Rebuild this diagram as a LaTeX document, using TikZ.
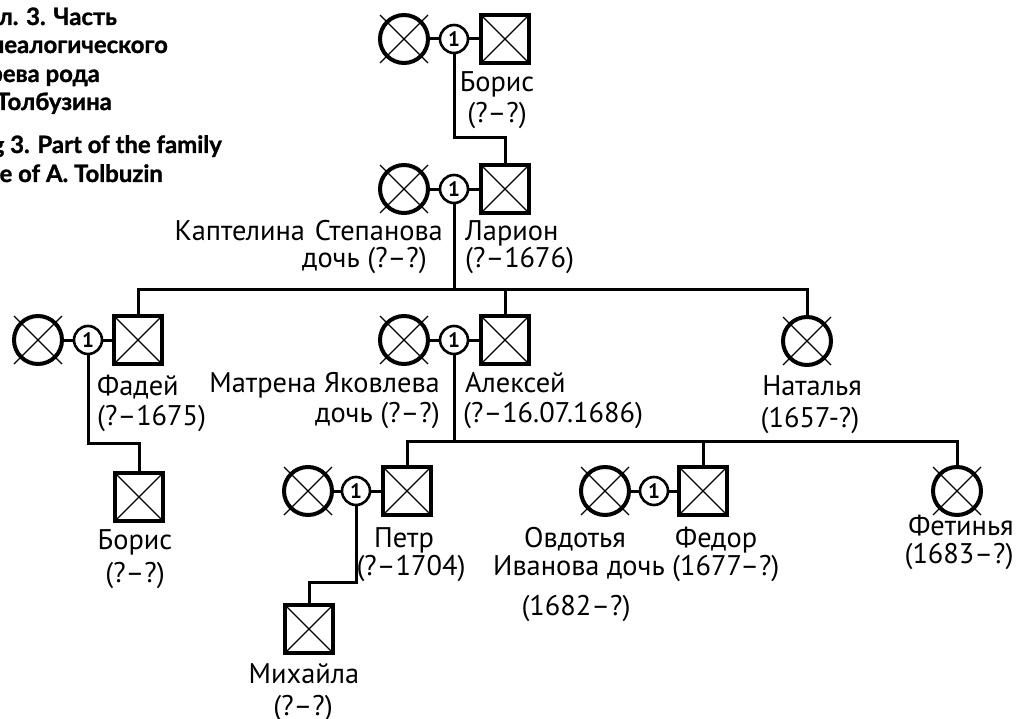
\documentclass[tikz,border=0pt]{standalone}
\usepackage{fontspec}
\setmainfont{PT Sans}
\newfontfamily\capfont{Lato}[BoldFeatures={FakeBold=1.2}]
\begin{document}
\begin{tikzpicture}[x=1bp,y=-1bp,
  con/.style={line width=3bp},
  fem/.style={circle,draw,line width=4bp,minimum size=48bp,inner sep=0pt},
  mal/.style={rectangle,draw,line width=4bp,minimum size=48bp,inner sep=0pt,
     path picture={\draw[line width=1.2bp] (path picture bounding box.north west) -- (path picture bounding box.south east) (path picture bounding box.north east) -- (path picture bounding box.south west);}},
  mar/.style={circle,draw,line width=2.6bp,minimum size=28bp,inner sep=0pt,font=\fontsize{21}{21}\selectfont\bfseries},
  lbl/.style={inner sep=0pt,font=\fontsize{28.5}{32}\selectfont},
  captxt/.style={inner sep=0pt,anchor=base east,font=\capfont\bfseries\fontsize{24}{28}\selectfont},
  diag/.style={line width=1.2bp}
]
\useasboundingbox (0,0) rectangle (1019,719);
% caption
\node[captxt] (c1) at (117,25) {Илл. 3. Часть};
\node[captxt] (c2) at (168,53) {генеалогического};
\node[captxt] (c3) at (100,82) {древа рода};
\node[captxt] (c4) at (112,110) {А. Толбузина};
\node[captxt] (c5) at (222,153) {Fig 3. Part of the family};
\node[captxt] (c6) at (163,182) {tree of A. Tolbuzin};
% generation 1
\node[fem] (f1) at (404,39) {};
\node[mar] (m1) at (454,39) {1};
\node[mal] (boris1) at (505,39) {};
% generation 2
\node[fem] (f2) at (404,189) {};
\node[mar] (m2) at (454,189) {1};
\node[mal] (larion) at (505,189) {};
% generation 3
\node[fem] (f3) at (38,340) {};
\node[mar] (mF) at (88,340) {1};
\node[mal] (fadey) at (138,340) {};
\node[fem] (f4) at (404,340) {};
\node[mar] (m3) at (454,340) {1};
\node[mal] (alexey) at (505,340) {};
\node[fem] (natalya) at (807,341) {};
% generation 4
\node[mal] (boris2) at (139,497) {};
\node[fem] (f5) at (308,491) {};
\node[mar] (mP) at (356,491) {1};
\node[mal] (petr) at (407,491) {};
\node[fem] (f6) at (605,491) {};
\node[mar] (mFd) at (654,491) {1};
\node[mal] (fedor) at (703,491) {};
\node[fem] (fetinya) at (957,491) {};
% generation 5
\node[mal] (mikh) at (309,629) {};
% female diagonals
\foreach \n in {f1,f2,f3,f4,f5,f6,natalya,fetinya}
  \draw[diag] (\n.center) ++(-24,-24) -- ++(48,48) (\n.center) ++(24,-24) -- ++(-48,48);
% couple lines
\draw[con] (f1) -- (m1) -- (boris1);
\draw[con] (f2) -- (m2) -- (larion);
\draw[con] (f3) -- (mF) -- (fadey);
\draw[con] (f4) -- (m3) -- (alexey);
\draw[con] (f5) -- (mP) -- (petr);
\draw[con] (f6) -- (mFd) -- (fedor);
% descent
\coordinate (j1) at (454,138);
\draw[con] (m1) -- (j1) -| (larion);
\coordinate (j2) at (454,289);
\draw[con] (m2) -- (j2);
\draw[con] (fadey) -- (fadey |- j2) -- (natalya |- j2) -- (natalya);
\draw[con] (alexey) -- (alexey |- j2);
\coordinate (j3) at (454,441);
\draw[con] (m3) -- (j3);
\draw[con] (petr) -- (petr |- j3) -- (fetinya |- j3) -- (fetinya);
\draw[con] (fedor) -- (fedor |- j3);
\coordinate (j4) at (88,443);
\draw[con] (mF) -- (j4) -| (boris2);
\coordinate (j5) at (356,582);
\draw[con] (mP) -- (j5) -| (mikh);
% labels
\node[lbl,anchor=base] (t1) at (497,92) {Борис};
\node[lbl,anchor=base] (t1d) at (497,123) {(?–?)};
\node[lbl,anchor=base east] (t2) at (443,240) {Каптелина\hspace{10bp}Степанова};
\node[lbl,anchor=base east] (t2d) at (427,267) {дочь (?–?)};
\node[lbl,anchor=base west] (t3) at (465,240) {Ларион};
\node[lbl,anchor=base west] (t3d) at (465,267) {(?–1676)};
\node[lbl,anchor=base west] (t4) at (97,395) {Фадей};
\node[lbl,anchor=base west] (t4d) at (97,425) {(?–1675)};
\node[lbl,anchor=base east] (t5) at (440,392) {Матрена Яковлева};
\node[lbl,anchor=base east] (t5d) at (440,422) {дочь (?–?)};
\node[lbl,anchor=base west] (t6) at (465,392) {Алексей};
\node[lbl,anchor=base west] (t6d) at (463,422) {(?–16.07.1686)};
\node[lbl,anchor=base] (t7) at (812,395) {Наталья};
\node[lbl,anchor=base] (t7d) at (810,427) {(1657-?)};
\node[lbl,anchor=base] (t8) at (135,549) {Борис};
\node[lbl,anchor=base] (t8d) at (135,582) {(?–?)};
\node[lbl,anchor=base] (t9) at (404,547) {Петр};
\node[lbl,anchor=base] (t9d) at (411,575) {(?–1704)};
\node[lbl,anchor=base] (t10) at (575,547) {Овдотья};
\node[lbl,anchor=base east] (t10d) at (665,575) {Иванова дочь};
\node[lbl,anchor=base] (t10e) at (576,615) {(1682–?)};
\node[lbl,anchor=base west] (t11) at (675,547) {Федор};
\node[lbl,anchor=base west] (t11d) at (672,575) {(1677–?)};
\node[lbl,anchor=base] (t12) at (961,535) {Фетинья};
\node[lbl,anchor=base] (t12d) at (959,563) {(1683–?)};
\node[lbl,anchor=base] (t13) at (304,683) {Михайла};
\node[lbl,anchor=base] (t13d) at (303,715) {(?–?)};
\end{tikzpicture}
\end{document}
